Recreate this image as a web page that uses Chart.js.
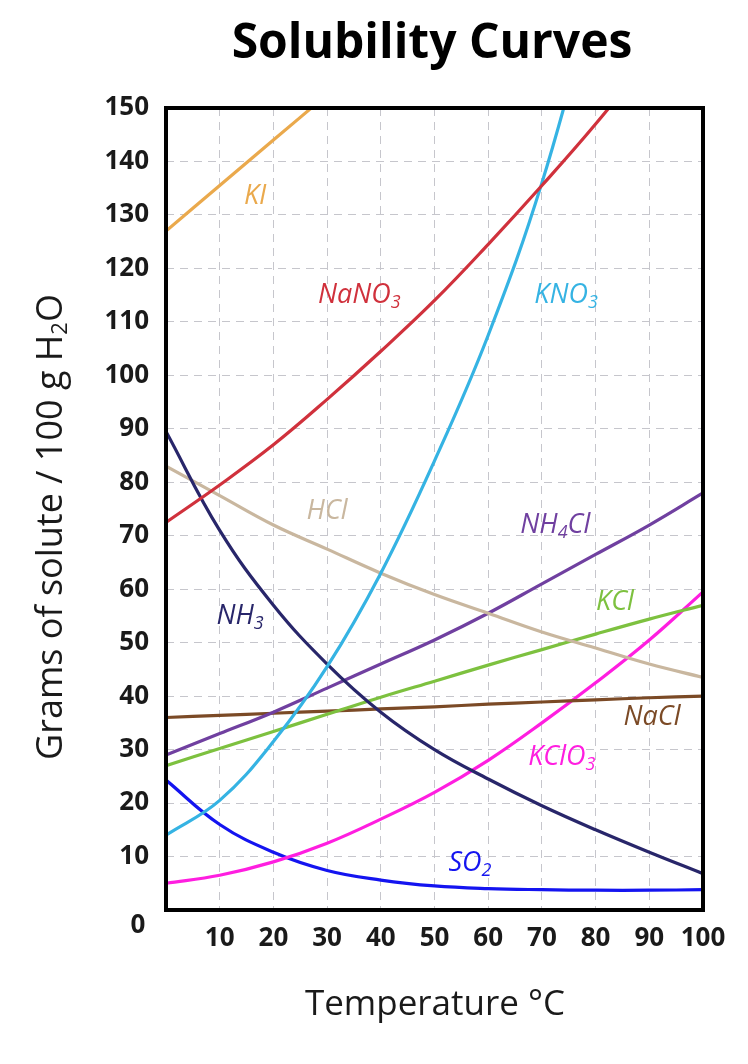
<!DOCTYPE html>
<html>
<head>
<meta charset="utf-8">
<title>Solubility Curves</title>
<script src="https://cdn.jsdelivr.net/npm/chart.js@4.4.1/dist/chart.umd.min.js"></script>
<style>
  html, body { margin: 0; padding: 0; background: #fff; }
  canvas { display: block; }
</style>
</head>
<body>
<canvas id="solubilityChart" width="748" height="1064"></canvas>
<script>
// temperatures in degrees C
const temps = [0, 10, 20, 30, 40, 50, 60, 70, 80, 90, 100];

// grams of solute per 100 g water
const kiValues     = [127, 135.5, 144, 152.5, null, null, null, null, null, null, null];
const nano3Values  = [72.5, 79.5, 87, 95.5, 104.5, 114, 124.5, 135.5, 147, 159.5, 173];
const kno3Values   = [14, 20.5, 31.5, 45.5, 63, 84, 107.5, 136, 172, null, null];
const nh3Values    = [89.5, 71, 57, 46, 37, 30, 24.5, 19.5, 15, 10.8, 6.8];
const hclValues    = [83, 77.5, 72, 67.5, 63, 59, 55.5, 52, 49, 46, 43.5];
const nh4clValues  = [29, 33, 37, 41.5, 46, 50.5, 55.5, 61, 66.5, 72, 78];
const kclValues    = [27, 30.2, 33.4, 36.6, 39.8, 42.8, 45.8, 48.7, 51.6, 54.4, 57];
const naclValues   = [36, 36.4, 36.8, 37.2, 37.6, 38, 38.5, 38.9, 39.3, 39.7, 40];
const kclo3Values  = [5, 6.5, 9, 12.5, 17, 22, 28, 35, 42.5, 50.5, 59.5];
const so2Values    = [24.3, 16, 10.8, 7.4, 5.6, 4.5, 4, 3.8, 3.7, 3.7, 3.8];

const seriesNames  = ['KI', 'NaNO3', 'KNO3', 'NH3', 'HCl', 'NH4Cl', 'KCl', 'NaCl', 'KClO3', 'SO2'];
const seriesValues = [kiValues, nano3Values, kno3Values, nh3Values, hclValues, nh4clValues, kclValues, naclValues, kclo3Values, so2Values];
const seriesColors = ['#eaa94c', '#d0313c', '#35b3e3', '#28266a', '#c9b79f', '#7040a0', '#7dc13f', '#7b4a26', '#ff1ee0', '#1414f0'];

// where each curve's name sits, in data units (temperature, grams)
const curveLabels = [
  { main: 'KI',   sub: '',  x: 16.6, y: 133.5, color: '#eaa94c' },
  { main: 'NaNO', sub: '3', x: 36,   y: 115,   color: '#d0313c' },
  { main: 'KNO',  sub: '3', x: 74.5, y: 115,   color: '#35b3e3' },
  { main: 'HCl',  sub: '',  x: 30,   y: 74.5,  color: '#c9b79f' },
  { main: 'NH',   sub: '4', x: 72.5, y: 72,    color: '#7040a0', tail: 'Cl' },
  { main: 'NH',   sub: '3', x: 13.8, y: 55,    color: '#28266a' },
  { main: 'KCl',  sub: '',  x: 83.6, y: 57.6,  color: '#7dc13f' },
  { main: 'NaCl', sub: '',  x: 90.5, y: 36,    color: '#7b4a26' },
  { main: 'KClO', sub: '3', x: 73.7, y: 28.6,  color: '#ff1ee0' },
  { main: 'SO',   sub: '2', x: 56.6, y: 8.8,   color: '#1414f0' },
];

const datasets = seriesNames.map((name, i) => ({
  label: name,
  data: temps.map((t, j) => ({ x: t, y: seriesValues[i][j] })),
  borderColor: seriesColors[i],
  borderWidth: 3.2,
  pointRadius: 0,
  fill: false,
  tension: 0.4,
  spanGaps: false,
}));

const FONT = '"Open Sans", "Noto Sans", sans-serif';

// title, axis titles, the corner "0", the frame and the curve names
const decorations = {
  id: 'decorations',
  afterDatasetsDraw(chart) {
    const { ctx, chartArea, scales } = chart;
    const xs = scales.x, ys = scales.y;

    // curve names, italic with subscripts
    curveLabels.forEach((lab) => {
      const px = xs.getPixelForValue(lab.x);
      const py = ys.getPixelForValue(lab.y);
      ctx.save();
      ctx.fillStyle = lab.color;
      ctx.textBaseline = 'middle';
      const mainFont = 'italic 27px ' + FONT;
      const subFont = 'italic 18px ' + FONT;
      ctx.font = mainFont;
      const w1 = ctx.measureText(lab.main).width;
      ctx.font = subFont;
      const w2 = lab.sub ? ctx.measureText(lab.sub).width : 0;
      ctx.font = mainFont;
      const w3 = lab.tail ? ctx.measureText(lab.tail).width : 0;
      let x0 = px - (w1 + w2 + w3) / 2;
      ctx.textAlign = 'left';
      ctx.fillText(lab.main, x0, py);
      if (lab.sub) {
        ctx.font = subFont;
        ctx.fillText(lab.sub, x0 + w1, py + 8);
      }
      if (lab.tail) {
        ctx.font = mainFont;
        ctx.fillText(lab.tail, x0 + w1 + w2, py);
      }
      ctx.restore();
    });

    // frame
    ctx.save();
    ctx.strokeStyle = '#000';
    ctx.lineWidth = 4;
    ctx.strokeRect(chartArea.left, chartArea.top, chartArea.right - chartArea.left, chartArea.bottom - chartArea.top);
    ctx.restore();
  },
  afterDraw(chart) {
    const { ctx } = chart;
    ctx.save();
    ctx.fillStyle = '#000';
    ctx.textAlign = 'center';
    ctx.textBaseline = 'middle';
    ctx.font = 'bold 48px ' + FONT;
    ctx.fillText('Solubility Curves', 432, 44);

    ctx.fillStyle = '#1a1a1a';
    ctx.font = 'bold 26px ' + FONT;
    ctx.fillText('0', 138, 926);

    ctx.font = '35px ' + FONT;
    ctx.fillText('Temperature \u00B0C', 435, 1005);

    // y axis title with H2O subscript
    ctx.translate(52, 527);
    ctx.rotate(-Math.PI / 2);
    const a = 'Grams of solute / 100 g H', b = '2', c = 'O';
    ctx.font = '36px ' + FONT;
    const wa = ctx.measureText(a).width, wc = ctx.measureText(c).width;
    ctx.font = '22px ' + FONT;
    const wb = ctx.measureText(b).width;
    let x0 = -(wa + wb + wc) / 2;
    ctx.textAlign = 'left';
    ctx.font = '36px ' + FONT;
    ctx.fillText(a, x0, 0);
    ctx.font = '22px ' + FONT;
    ctx.fillText(b, x0 + wa, 9);
    ctx.font = '36px ' + FONT;
    ctx.fillText(c, x0 + wa + wb, 0);
    ctx.restore();
  }
};

const ctx = document.getElementById('solubilityChart').getContext('2d');
new Chart(ctx, {
  type: 'line',
  data: { datasets },
  options: {
    responsive: false,
    animation: false,
    layout: { padding: { top: 108, right: 45, left: 0, bottom: 0 } },
    plugins: {
      legend: { display: false },
      title: { display: false },
      tooltip: { enabled: false },
    },
    scales: {
      x: {
        type: 'linear',
        min: 0,
        max: 100,
        afterFit: (scale) => { scale.height = 154; },
        ticks: {
          stepSize: 10,
          padding: 13,
          color: '#1a1a1a',
          font: { family: FONT, size: 26, weight: 'bold' },
          callback: (v) => (v === 0 ? '' : v),
        },
        grid: { color: '#c6c6cc', lineWidth: 1, drawTicks: false },
        border: { display: false, dash: [8, 6] },
      },
      y: {
        min: 0,
        max: 150,
        afterFit: (scale) => { scale.width = 166; },
        ticks: {
          stepSize: 10,
          padding: 17,
          color: '#1a1a1a',
          font: { family: FONT, size: 26, weight: 'bold' },
          callback: (v) => (v === 0 ? '' : v),
        },
        grid: { color: '#c6c6cc', lineWidth: 1, drawTicks: false },
        border: { display: false, dash: [8, 6] },
      },
    },
  },
  plugins: [decorations],
});
</script>
</body>
</html>
